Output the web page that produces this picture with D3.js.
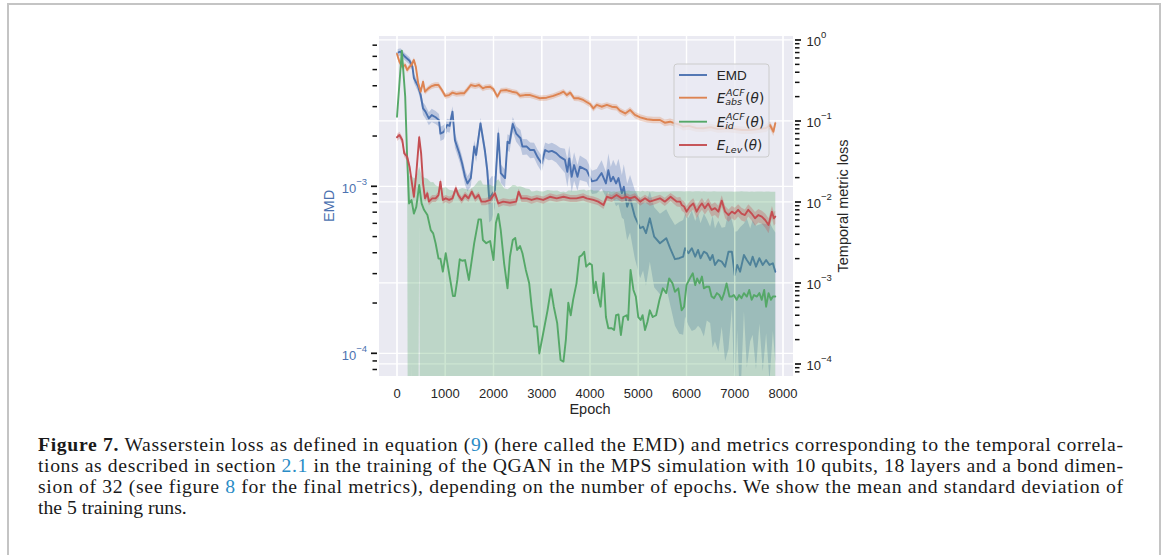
<!DOCTYPE html>
<html><head><meta charset="utf-8">
<script src="https://cdn.jsdelivr.net/npm/d3@7"></script>
<style>body{margin:0;background:#fff}svg{display:block}</style>
</head><body>
<svg id="c" width="1168" height="555"></svg>
<script>
// ---------------- data ----------------
const xTicks = [0,1000,2000,3000,4000,5000,6000,7000,8000];
const leftMajorExps = [-4,-3,-2];
const rightMajorExps = [-4,-3,-2,-1,0];

const emdEpochs = [0,70,150,260,320,350,440,490,540,590,
660,720,800,870,900,970,1040,1090,1150,1200,
1290,1350,1410,1460,1530,1600,1640,1730,1820,1870,
1910,1960,2030,2100,2150,2240,2290,2330,2400,2470,
2560,2600,2690,2760,2840,2910,3000,3070,3140,3210,
3300,3380,3480,3530,3570,3620,3670,3740,3790,3930,
4040,4140,4240,4330,4380,4430,4480,4540,4590,4660,
4700,4770,4830,4930,5040,5100,5160,5240,5330,5450,
5580,5660,5760,5850,5930,5970,6040,6110,6180,6240,
6290,6360,6420,6490,6540,6590,6660,6730,6800,6870,
6940,7000,7050,7110,7190,7250,7320,7370,7440,7510,
7580,7650,7720,7790,7840];
const emdMean = [6.3e-3,6.4e-3,6.03e-3,5.65e-3,5.2e-3,4.44e-3,3.95e-3,3.52e-3,2.93e-3,2.8e-3,
2.55e-3,2.67e-3,2.59e-3,2.49e-3,2.07e-3,2.12e-3,2.33e-3,2.3e-3,2.8e-3,1.89e-3,
1.58e-3,1.37e-3,1.14e-3,1.04e-3,1.12e-3,1.73e-3,1.54e-3,2.38e-3,1.65e-3,1.25e-3,
8.48e-4,8.87e-4,9.5e-4,2.07e-3,1.2e-3,1.12e-3,1.85e-3,1.81e-3,2.36e-3,2.07e-3,
1.94e-3,1.73e-3,1.73e-3,1.65e-3,1.65e-3,1.5e-3,1.37e-3,1.65e-3,1.61e-3,1.63e-3,
1.58e-3,1.5e-3,1.44e-3,1.22e-3,1.47e-3,1.14e-3,1.34e-3,1.14e-3,1.31e-3,1.25e-3,
1.07e-3,1.09e-3,1.2e-3,1.04e-3,1.25e-3,1.07e-3,1.14e-3,1.04e-3,1.12e-3,9.08e-4,
9.95e-4,7.55e-4,8.48e-4,6.58e-4,5.61e-4,5.73e-4,5.24e-4,6.43e-4,4.99e-4,4.56e-4,
4.89e-4,4.26e-4,3.66e-4,3.71e-4,3.79e-4,4.26e-4,3.97e-4,4.26e-4,3.79e-4,4.16e-4,
3.71e-4,4.06e-4,3.97e-4,3.62e-4,3.88e-4,3.38e-4,3.62e-4,3.54e-4,3.3e-4,4.06e-4,
4.06e-4,2.94e-4,3.38e-4,3.08e-4,3.88e-4,3.62e-4,3.38e-4,3.79e-4,3.3e-4,3.71e-4,
3.38e-4,3.62e-4,3.38e-4,3.46e-4,3.08e-4];
const emdStd = [3.2e-4,3.2e-4,3.0e-4,2.8e-4,2.6e-4,2.7e-4,2.8e-4,2.8e-4,2.6e-4,2.5e-4,
2.3e-4,2.4e-4,2.3e-4,2.2e-4,2.0e-4,2.1e-4,2.1e-4,2.1e-4,2.2e-4,1.9e-4,
1.6e-4,1.4e-4,1.2e-4,1.1e-4,1.2e-4,1.5e-4,1.4e-4,1.9e-4,1.6e-4,1.6e-4,
2.4e-4,2.6e-4,2.0e-4,2.2e-4,1.5e-4,1.4e-4,2.0e-4,2.1e-4,2.4e-4,2.2e-4,
2.3e-4,1.9e-4,1.8e-4,1.8e-4,1.7e-4,1.6e-4,1.5e-4,1.8e-4,1.8e-4,1.9e-4,
1.9e-4,2.0e-4,2.4e-4,2.3e-4,2.8e-4,2.2e-4,2.6e-4,2.0e-4,2.2e-4,1.9e-4,
1.7e-4,1.8e-4,2.3e-4,1.8e-4,3.2e-4,2.4e-4,3.0e-4,2.8e-4,3.4e-4,2.6e-4,
3.6e-4,2.8e-4,3.2e-4,2.9e-4,2.8e-4,2.6e-4,2.7e-4,2.9e-4,2.5e-4,2.3e-4,
2.4e-4,2.3e-4,2.2e-4,2.4e-4,2.5e-4,2.6e-4,2.5e-4,2.9e-4,2.4e-4,2.7e-4,
2.3e-4,2.8e-4,2.4e-4,2.1e-4,2.8e-4,2.2e-4,2.6e-4,2.1e-4,2.4e-4,3.0e-4,
2.2e-4,2.4e-4,2.0e-4,2.6e-4,2.1e-4,2.8e-4,2.2e-4,2.5e-4,2.5e-4,2.2e-4,
2.6e-4,2.3e-4,2.7e-4,2.1e-4,2.2e-4];

const absEpochs = [0,50,110,170,210,260,300,350,390,
440,490,540,580,650,720,790,860,
930,1000,1080,1150,1230,1320,1390,1460,
1530,1620,1700,1780,1830,1930,2000,2080,
2150,2270,2380,2480,2550,2650,2760,2860,
2960,3100,3240,3380,3450,3520,3590,3670,
3760,3860,3920,4000,4070,4140,4240,4350,
4450,4550,4620,4730,4830,4930,5040,5180,
5310,5450,5550,5660,5760,5870,5930,6050,
6200,6350,6500,6650,6830,7000,7150,7320,
7500,7650,7730,7800,7840];
const absMean = [0.672,0.54,0.468,0.491,0.426,0.468,0.491,0.566,0.468,
0.292,0.23,0.306,0.23,0.253,0.27,0.278,0.278,
0.241,0.204,0.209,0.224,0.216,0.22,0.22,0.246,
0.278,0.27,0.278,0.253,0.261,0.265,0.246,0.2,
0.237,0.241,0.23,0.224,0.205,0.209,0.209,0.2,
0.191,0.194,0.204,0.22,0.23,0.209,0.224,0.191,
0.191,0.182,0.173,0.162,0.143,0.158,0.15,0.158,
0.15,0.148,0.134,0.124,0.137,0.119,0.111,0.105,
0.103,0.103,0.0953,0.098,0.0937,0.0893,0.0851,0.087,
0.082,0.0813,0.084,0.0796,0.0813,0.0796,0.0774,0.0774,
0.0796,0.082,0.0893,0.0738,0.0937];
const absStd = [0.054,0.043,0.037,0.039,0.034,0.037,0.039,0.045,0.037,
0.023,0.018,0.024,0.018,0.02,0.022,0.022,0.022,
0.019,0.016,0.017,0.018,0.017,0.018,0.018,0.02,
0.022,0.022,0.022,0.02,0.021,0.021,0.02,0.016,
0.019,0.019,0.018,0.018,0.016,0.017,0.017,0.016,
0.015,0.016,0.016,0.018,0.018,0.017,0.018,0.015,
0.016,0.015,0.014,0.014,0.012,0.013,0.013,0.013,
0.013,0.013,0.012,0.011,0.012,0.011,0.01,0.0095,
0.0095,0.0095,0.009,0.0095,0.009,0.0088,0.0085,0.0088,
0.0084,0.0083,0.0086,0.0082,0.0085,0.0083,0.0082,0.0082,
0.0085,0.0088,0.0095,0.0085,0.0095];

const idEpochs = [0,100,170,210,250,300,350,400,460,510,
560,630,700,750,800,860,900,950,1010,1080,
1160,1200,1250,1300,1350,1410,1490,1600,1690,1740,
1780,1850,1930,2000,2050,2100,2150,2220,2290,2340,
2400,2450,2490,2550,2600,2670,2740,2790,2840,2900,
2950,3030,3120,3190,3250,3320,3390,3450,3500,3550,
3600,3650,3720,3780,3830,3880,3920,3990,4040,4080,
4120,4170,4220,4280,4330,4380,4450,4500,4540,4590,
4640,4690,4760,4790,4840,4900,4950,5000,5050,5090,
5140,5190,5240,5300,5370,5440,5510,5580,5640,5710,
5760,5830,5900,5950,6000,6070,6130,6180,6220,6270,
6320,6360,6420,6470,6520,6570,6630,6680,6730,6780,
6830,6890,6940,6980,7040,7090,7140,7190,7250,7300,
7350,7400,7460,7510,7560,7610,7650,7700,7750,7790,
7840];
const idMean = [0.113,0.74,0.2,0.036,0.0096,0.0106,0.0072,0.0087,0.0162,0.0096,
0.008,0.0069,0.0045,0.0041,0.0031,0.002,0.002,0.00138,0.00233,0.00132,
0.00069,0.00069,0.00109,0.00196,0.00188,0.00192,0.00109,0.0031,0.0061,0.0061,
0.0034,0.0031,0.0033,0.00192,0.0055,0.0071,0.0045,0.00175,0.00086,0.0021,
0.0034,0.0036,0.00255,0.00286,0.00233,0.00145,0.00099,0.00051,0.00029,0.00029,
0.000135,0.00024,0.00046,0.00084,0.00051,0.00032,0.000112,0.000107,0.0002,0.00057,
0.0004,0.00062,0.00099,0.0021,0.0022,0.00243,0.00159,0.00175,0.00167,0.00075,
0.00104,0.00068,0.00051,0.00132,0.00038,0.000276,0.000276,0.000263,0.0004,0.00041,
0.000228,0.00038,0.0004,0.00035,0.00145,0.00082,0.00068,0.00038,0.00035,0.0004,
0.000263,0.00033,0.00046,0.00038,0.0004,0.00062,0.00086,0.00075,0.00114,0.00099,
0.00078,0.00086,0.00046,0.00051,0.00094,0.00114,0.00132,0.00094,0.00114,0.00099,
0.0012,0.00086,0.0009,0.0009,0.00068,0.00065,0.00075,0.00071,0.00062,0.00075,
0.00099,0.00068,0.00068,0.00071,0.00062,0.00071,0.00065,0.00075,0.00068,0.00082,
0.00062,0.00071,0.00068,0.00075,0.00062,0.00082,0.00051,0.00075,0.00062,0.00068,
0.00068];
const idStd = [0.004,0.02,0.008,0.002,0.0115,0.0105,0.0125,0.0115,0.011,0.0115,
0.012,0.0125,0.013,0.0135,0.013,0.0135,0.013,0.0135,0.013,0.0128,
0.0132,0.013,0.0128,0.0125,0.013,0.0127,0.013,0.0125,0.0122,0.0125,
0.013,0.0132,0.013,0.0135,0.0125,0.012,0.0125,0.013,0.0135,0.013,
0.0128,0.0125,0.013,0.0128,0.013,0.0132,0.0135,0.013,0.0133,0.0136,
0.0134,0.0132,0.0136,0.013,0.0133,0.0135,0.0132,0.0134,0.013,0.0133,
0.0135,0.0131,0.0128,0.012,0.012,0.0118,0.0122,0.0124,0.0125,0.013,
0.0128,0.0132,0.013,0.0125,0.0132,0.0134,0.0131,0.0133,0.013,0.0132,
0.0134,0.0131,0.0133,0.0135,0.0122,0.0128,0.013,0.0133,0.0131,0.0134,
0.0132,0.0133,0.013,0.0132,0.013,0.0128,0.0126,0.0127,0.0123,0.0126,
0.0128,0.0127,0.0131,0.013,0.0126,0.0124,0.0122,0.0126,0.0124,0.0126,
0.0123,0.0127,0.0126,0.0126,0.0128,0.0129,0.0127,0.0128,0.0129,0.0127,
0.0125,0.0128,0.0128,0.0127,0.0129,0.0128,0.0129,0.0127,0.0128,0.0126,
0.0129,0.0127,0.0128,0.0127,0.0129,0.0126,0.013,0.0127,0.0128,0.0127,
0.0127];

const levEpochs = [0,50,110,150,210,260,300,350,400,460,
500,540,580,630,660,730,800,860,900,950,
1010,1080,1150,1220,1270,1340,1410,1480,1550,1620,
1690,1750,1830,1930,2030,2100,2200,2340,2470,2520,
2580,2690,2790,2900,3030,3170,3310,3450,3590,3720,
3860,3930,4070,4170,4280,4350,4450,4550,4660,4760,
4830,4930,5040,5140,5240,5350,5450,5550,5670,5800,
5870,5900,5950,6000,6070,6140,6210,6270,6320,6380,
6450,6520,6590,6660,6730,6800,6870,6940,7000,7070,
7140,7210,7280,7350,7420,7490,7560,7630,7700,7770,
7810,7840];
const levMean = [0.0629,0.0671,0.0582,0.0399,0.0362,0.0273,0.0187,0.0116,0.0226,0.0629,
0.0399,0.017,0.0111,0.0128,0.0101,0.0111,0.0111,0.0122,0.0178,0.0106,
0.0111,0.0106,0.0111,0.0148,0.0122,0.0106,0.0122,0.0111,0.0134,0.0111,
0.0122,0.0101,0.0101,0.0106,0.0128,0.0096,0.0101,0.0098,0.0101,0.0134,
0.0111,0.0111,0.0106,0.0111,0.0106,0.0116,0.0111,0.0116,0.0111,0.0111,
0.0116,0.0111,0.0106,0.0101,0.0092,0.0116,0.0111,0.0122,0.0111,0.0116,
0.0111,0.0116,0.0101,0.0111,0.0101,0.0106,0.0111,0.0101,0.0116,0.0101,
0.0101,0.0092,0.0088,0.0076,0.0088,0.0096,0.0076,0.0088,0.0096,0.0084,
0.0096,0.008,0.0084,0.0076,0.0104,0.0076,0.0069,0.0076,0.0072,0.008,
0.0072,0.0069,0.008,0.0072,0.0063,0.0069,0.0066,0.006,0.0052,0.0076,
0.0063,0.0066];
const levStd = [0.0063,0.0067,0.0058,0.004,0.0036,0.0027,0.0019,0.0012,0.0023,0.0063,
0.004,0.0017,0.0011,0.0013,0.001,0.0011,0.0011,0.0012,0.0018,0.0011,
0.0011,0.0011,0.0011,0.0015,0.0012,0.0011,0.0012,0.0011,0.0013,0.0011,
0.0012,0.001,0.001,0.0011,0.0013,0.001,0.001,0.001,0.001,0.0013,
0.0011,0.0011,0.0011,0.0011,0.0011,0.0012,0.0011,0.0012,0.0011,0.0011,
0.0012,0.0011,0.0011,0.001,0.001,0.0012,0.0011,0.0012,0.0011,0.0012,
0.0011,0.0012,0.0011,0.0012,0.0011,0.0012,0.0012,0.0012,0.0013,0.0013,
0.0014,0.0014,0.0014,0.0013,0.0014,0.0015,0.0013,0.0015,0.0016,0.0014,
0.0016,0.0014,0.0015,0.0014,0.0017,0.0013,0.0012,0.0013,0.0013,0.0014,
0.0013,0.0012,0.0014,0.0013,0.0012,0.0013,0.0012,0.0012,0.0011,0.0013,
0.0012,0.0012];

const legendLabels = ["EMD", "E|ACF|abs", "E|ACF|id", "E||Lev"];
const captionLines = [
  [["Figure 7.","b"],[" Wasserstein loss as defined in equation ("],["9","l"],[") (here called the EMD) and metrics corresponding to the temporal correla-"]],
  [["tions as described in section "],["2.1","l"],[" in the training of the QGAN in the MPS simulation with 10 qubits, 18 layers and a bond dimen-"]],
  [["sion of 32 (see figure "],["8","l"],[" for the final metrics), depending on the number of epochs. We show the mean and standard deviation of"]],
  [["the 5 training runs."]]
];

// ---------------- drawing ----------------
const C = {blue:"#4C72B0", orange:"#DD8452", green:"#55A868", red:"#C44E52"};
const svg = d3.select("#c");
const P = {l:379, r:793, t:36, b:376};
const x = d3.scaleLinear().domain([-373, 8207]).range([P.l, P.r]);
const yL = d3.scaleLog().domain([Math.pow(10,-4.13593), Math.pow(10,-2.1)]).range([P.b, P.t]);
const yR = d3.scaleLog().domain([Math.pow(10,-4.14815), Math.pow(10,0.04938)]).range([P.b, P.t]);

// frame
svg.append("path").attr("d","M8,556 V4 H1160 V556").attr("fill","none").attr("stroke","#c4c4c4").attr("stroke-width",2);

svg.append("defs").append("clipPath").attr("id","pc").append("rect")
  .attr("x",P.l).attr("y",P.t).attr("width",P.r-P.l).attr("height",P.b-P.t);

svg.append("rect").attr("x",P.l).attr("y",P.t).attr("width",P.r-P.l).attr("height",P.b-P.t).attr("fill","#EAEAF2");

function grid(g, yScale, exps) {
  g.selectAll("line.v").data(xTicks).join("line").attr("class","v")
    .attr("x1",d=>x(d)).attr("x2",d=>x(d)).attr("y1",P.t).attr("y2",P.b)
    .attr("stroke","#fff").attr("stroke-width",1.25);
  const [lo,hi] = yScale.domain();
  g.selectAll("line.h").data(exps.map(e=>Math.pow(10,e)).filter(v=>v>=lo&&v<=hi)).join("line").attr("class","h")
    .attr("x1",P.l).attr("x2",P.r).attr("y1",d=>yScale(d)).attr("y2",d=>yScale(d))
    .attr("stroke","#fff").attr("stroke-width",1.25);
}

function series(g, yScale, ep, mean, std, color) {
  const data = ep.map((e,i)=>({e, m:mean[i], s:std[i]}));
  const area = d3.area().x(d=>x(d.e))
    .y0(d=>yScale(Math.max(d.m-d.s, 1e-12)))
    .y1(d=>yScale(d.m+d.s));
  g.append("path").datum(data).attr("d",area).attr("fill",color).attr("fill-opacity",0.3).attr("stroke","none");
  const line = d3.line().x(d=>x(d.e)).y(d=>yScale(d.m));
  g.append("path").datum(data).attr("d",line).attr("fill","none").attr("stroke",color)
    .attr("stroke-width",1.9).attr("stroke-linejoin","round").attr("stroke-linecap","round");
}

const ax1 = svg.append("g").attr("clip-path","url(#pc)");
grid(ax1.append("g"), yL, leftMajorExps);
series(ax1, yL, emdEpochs, emdMean, emdStd, C.blue);

const ax2 = svg.append("g").attr("clip-path","url(#pc)");
grid(ax2.append("g"), yR, rightMajorExps);
series(ax2, yR, absEpochs, absMean, absStd, C.orange);
series(ax2, yR, idEpochs, idMean, idStd, C.green);
series(ax2, yR, levEpochs, levMean, levStd, C.red);

// log ticks
function logTicks(scale) {
  const [lo,hi] = scale.domain(); const out=[];
  for (let e=Math.floor(Math.log10(lo)); e<=Math.ceil(Math.log10(hi)); e++)
    for (let k=1;k<10;k++){ const v=k*Math.pow(10,e); if(v>=lo&&v<=hi) out.push({v,k,e}); }
  return out;
}
const tickG = svg.append("g");
logTicks(yL).forEach(t=>{
  const y=yL(t.v);
  tickG.append("line").attr("x1",P.l-2).attr("x2",P.l-2-(t.k===1?6:4.5)).attr("y1",y).attr("y2",y)
    .attr("stroke","#111").attr("stroke-width",t.k===1?1.7:1.5);
  if (t.k===1) {
    const tx = tickG.append("text").attr("x",P.l-12).attr("y",y+6.5).attr("text-anchor","end")
      .attr("fill",C.blue).style("font-family","Liberation Sans, Arial, sans-serif").style("font-size","13px");
    tx.append("tspan").text("10");
    tx.append("tspan").attr("dy",-8).style("font-size","9.5px").text("\u2212"+Math.abs(t.e));
  }
});
logTicks(yR).forEach(t=>{
  const y=yR(t.v);
  tickG.append("line").attr("x1",P.r+2).attr("x2",P.r+2+(t.k===1?6:4.5)).attr("y1",y).attr("y2",y)
    .attr("stroke","#111").attr("stroke-width",t.k===1?1.7:1.5);
  if (t.k===1) {
    const tx = tickG.append("text").attr("x",P.r+13.5).attr("y",y+6).attr("text-anchor","start")
      .attr("fill","#262626").style("font-family","Liberation Sans, Arial, sans-serif").style("font-size","13px");
    tx.append("tspan").text("10");
    tx.append("tspan").attr("dy",-8).style("font-size","9.5px").text(t.e===0?"0":"\u2212"+Math.abs(t.e));
  }
});
// x tick labels
tickG.selectAll("text.xt").data(xTicks).join("text").attr("class","xt")
  .attr("x",d=>x(d)).attr("y",398).attr("text-anchor","middle").attr("fill","#262626")
  .style("font-family","Liberation Sans, Arial, sans-serif").style("font-size","13px").text(d=>d);

// axis labels
const lab = {"font-family":"Liberation Sans, Arial, sans-serif","font-size":"14.5px"};
svg.append("text").attr("x",(x(0)+x(8000))/2).attr("y",414).attr("text-anchor","middle").attr("fill","#262626")
  .style("font-family",lab["font-family"]).style("font-size",lab["font-size"]).text("Epoch");
svg.append("text").attr("transform",`translate(333.5,${(P.t+P.b)/2}) rotate(-90)`).attr("text-anchor","middle")
  .attr("fill",C.blue).style("font-family",lab["font-family"]).style("font-size",lab["font-size"]).text("EMD");
svg.append("text").attr("transform",`translate(847.5,${(P.t+P.b)/2}) rotate(-90)`).attr("text-anchor","middle")
  .attr("fill","#262626").style("font-family",lab["font-family"]).style("font-size",lab["font-size"]).text("Temporal metric loss");

// legend
const leg = svg.append("g");
leg.append("rect").attr("x",674).attr("y",64).attr("width",95).attr("height",93).attr("rx",3)
  .attr("fill","#EAEAF2").attr("fill-opacity",0.8).attr("stroke","#cccccc").attr("stroke-width",1);
const rowY = [75, 97.7, 121.7, 145];
const legColors = [C.blue, C.orange, C.green, C.red];
legendLabels.forEach((lbl,i)=>{
  const cy=rowY[i];
  leg.append("line").attr("x1",679).attr("x2",707).attr("y1",cy).attr("y2",cy).attr("stroke",legColors[i]).attr("stroke-width",1.9);
  const tx0=716.7, base=cy+5;
  if (!lbl.includes("|")) {
    leg.append("text").attr("x",tx0).attr("y",base).attr("fill","#262626")
      .style("font-family","Liberation Sans, Arial, sans-serif").style("font-size","13.5px").text(lbl);
    return;
  }
  const [main,sup,sub] = lbl.split("|");
  const mf = "DejaVu Sans, sans-serif";
  const e = leg.append("text").attr("x",tx0).attr("y",base).attr("fill","#262626")
    .style("font-family",mf).style("font-size","13.5px").style("font-style","italic").text(main);
  const ew = e.node().getComputedTextLength();
  let w1=0,w2=0;
  if (sup) { const s=leg.append("text").attr("x",tx0+ew+0.8).attr("y",base-6.5).attr("fill","#262626")
      .style("font-family",mf).style("font-size","9.5px").style("font-style","italic").text(sup); w1=s.node().getComputedTextLength(); }
  if (sub) { const s=leg.append("text").attr("x",tx0+ew+(sup?0:0.3)).attr("y",base+(sup?2.6:3)).attr("fill","#262626")
      .style("font-family",mf).style("font-size","9.5px").style("font-style","italic").text(sub); w2=s.node().getComputedTextLength(); }
  const px = tx0+ew+Math.max(w1,w2)+1.5;
  const p = leg.append("text").attr("x",px).attr("y",base).attr("fill","#262626").style("font-family",mf).style("font-size","13.5px");
  p.append("tspan").text("(");
  p.append("tspan").style("font-style","italic").text("\u03B8");
  p.append("tspan").text(")");
});

// caption
const capY = [451, 472, 493, 514];
captionLines.forEach((segs,i)=>{
  const t = svg.append("text").attr("x",38).attr("y",capY[i]).attr("fill","#1a1a1a")
    .style("font-family","Liberation Serif, Times New Roman, serif").style("font-size","19.7px");
  segs.forEach(s=>{
    const sp=t.append("tspan").text(s[0]);
    if (s[1]==="b") sp.style("font-weight","bold");
    if (s[1]==="l") sp.attr("fill","#2a8cc6");
  });
  if (i<3) t.attr("textLength",1085).attr("lengthAdjust","spacing");
});
</script>
</body></html>
